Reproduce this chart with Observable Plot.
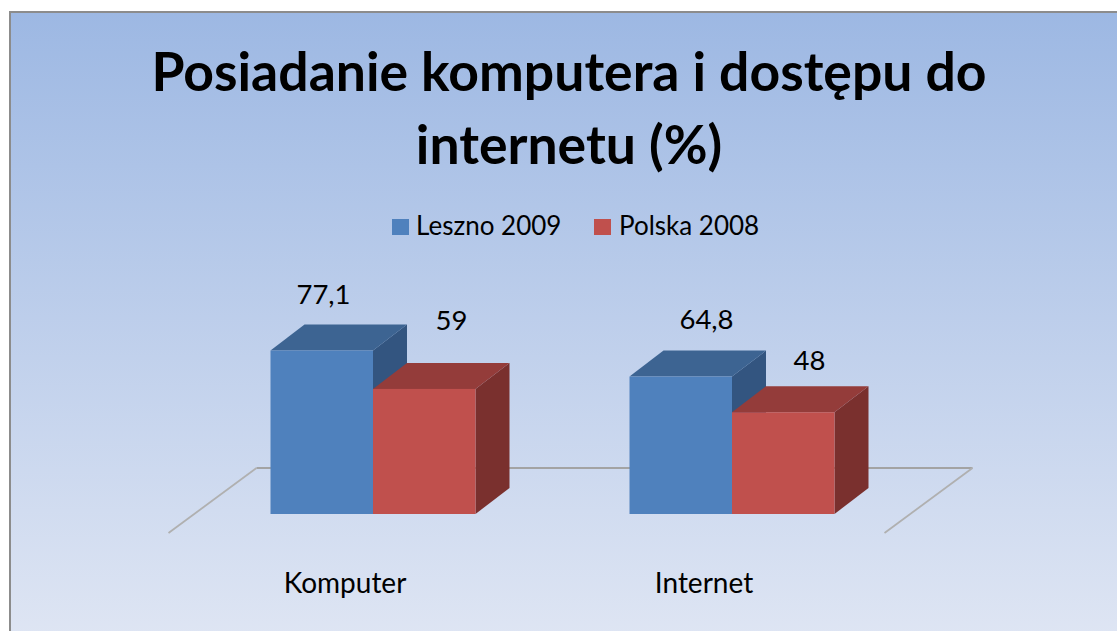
<!DOCTYPE html>
<html>
<head>
<meta charset="utf-8">
<script src="https://cdn.jsdelivr.net/npm/d3@7"></script>
<script src="https://cdn.jsdelivr.net/npm/@observablehq/plot@0.6"></script>
<style>
  html, body { margin: 0; padding: 0; width: 1117px; height: 631px; overflow: hidden; background: #ffffff; }
  body { position: relative; font-family: Lato, "Open Sans", sans-serif; color: #000; }
  #frame { position: absolute; left: 9px; top: 11px; width: 1140px; height: 650px;
    border-left: 2px solid #8c8c8c; border-top: 2px solid #8c8c8c;
    background: linear-gradient(to bottom, #9db8e3 0%, #e1e7f4 100%); }
  .tline { position: absolute; left: 0; width: 1138px; text-align: center; font-weight: 700; font-size: 53.5px; line-height: 60px; white-space: nowrap; }
  .lg-sw { position: absolute; width: 17px; height: 16px; top: 219px; }
  .lg-tx { position: absolute; top: 210px; font-size: 26px; line-height: 30px; white-space: nowrap; }
  #chart { position: absolute; left: 0; top: 250px; }
</style>
</head>
<body>
<div id="frame"></div>
<div class="tline" id="t1" style="top:40px">Posiadanie komputera i dostępu do</div>
<div class="tline" id="t2" style="top:113px">internetu (%)</div>
<div id="legend"></div>
<div id="chart"></div>
<script>
// ---- data ----
const categories = ["Komputer", "Internet"];
const series = ["Leszno 2009", "Polska 2008"];
const leszno2009 = [77.1, 64.8];
const polska2008 = [59, 48];
const seriesColors = ["#4F81BD", "#C0504D"];
const topColors = ["#3D6492", "#943C3A"];
const sideColors = ["#335580", "#7A302E"];

const values = [leszno2009, polska2008];
const rows = [];
series.forEach((s, si) => categories.forEach((c, ci) => rows.push({category: c, series: s, si, value: values[si][ci]})));

// ---- legend (HTML, above the svg) ----
const legend = document.getElementById("legend");
const legendPos = [[392, 416], [594, 619]];
series.forEach((s, i) => {
  const sw = document.createElement("div");
  sw.className = "lg-sw"; sw.style.left = legendPos[i][0] + "px"; sw.style.background = seriesColors[i];
  const tx = document.createElement("div");
  tx.className = "lg-tx"; tx.style.left = legendPos[i][1] + "px"; tx.textContent = s;
  legend.appendChild(sw); legend.appendChild(tx);
});

// ---- layout ----
const W = 1117, H = 381;
const mL = 91, mR = 103;
const pInner = 0.429, pOuter = 0.5;
const step = (W - mL - mR) / (categories.length - pInner + 2 * pOuter);
const bw = step * (1 - pInner);
const half = bw / 2;
const depth = {dx: 34, dy: 26};

const fmt = v => String(v).replace(".", ",");

// label offsets (pixels) relative to band centre / bar top
const labelOffsets = {
  "Komputer|Leszno 2009": [-50, -47.5],
  "Komputer|Polska 2008": [78, -59],
  "Internet|Leszno 2009": [-26, -48.5],
  "Internet|Polska 2008": [77, -43]
};

function pathOf(pts) { return "M" + pts.map(p => p.join(",")).join("L") + "Z"; }

// floor / back wall lines
function floorMark(index, scales) {
  const x = scales.x, y = scales.y;
  const y0 = y(0);
  const back = y0 - 46, front = y0 + 19;
  const xs0 = x(categories[0]);
  const xsN = x(categories[categories.length - 1]) + bw;
  const g = d3.create("svg:g");
  g.append("line").attr("x1", xs0 - 14).attr("y1", back).attr("x2", xsN + 138).attr("y2", back)
    .attr("stroke", "#a3a3a3").attr("stroke-width", 2);
  g.append("line").attr("x1", xs0 - 14).attr("y1", back).attr("x2", xs0 - 102).attr("y2", front)
    .attr("stroke", "#b0b0b0").attr("stroke-width", 1.8);
  g.append("line").attr("x1", xsN + 138).attr("y1", back).attr("x2", xsN + 50).attr("y2", front)
    .attr("stroke", "#b0b0b0").attr("stroke-width", 1.8);
  return g.node();
}

// 3D top and side faces of each bar
function facesMark(index, scales) {
  const x = scales.x, y = scales.y;
  const g = d3.create("svg:g");
  const {dx, dy} = depth;
  const ordered = rows.slice().sort((a, b) => a.si - b.si);
  for (const d of ordered) {
    const x0 = x(d.category) + d.si * half;
    const x1 = x0 + half;
    const yt = y(d.value), yb = y(0);
    g.append("path").attr("d", pathOf([[x1, yt], [x1 + dx, yt - dy], [x1 + dx, yb - dy], [x1, yb]]))
      .attr("fill", sideColors[d.si]);
    g.append("path").attr("d", pathOf([[x0, yt], [x0 + dx, yt - dy], [x1 + dx, yt - dy], [x1, yt]]))
      .attr("fill", topColors[d.si]);
  }
  return g.node();
}

const labelMarks = rows.map(d => {
  const [ox, oy] = labelOffsets[d.category + "|" + d.series];
  return Plot.text([d], {
    x: "category", y: "value", text: r => fmt(r.value),
    dx: ox, dy: oy, lineAnchor: "bottom", textAnchor: "middle",
    fontSize: 27.5, fill: "#000"
  });
});

const plot = Plot.plot({
  width: W, height: H,
  marginLeft: mL, marginRight: mR, marginTop: 52, marginBottom: 117,
  style: {background: "transparent", fontFamily: "Lato, 'Open Sans', sans-serif", overflow: "visible"},
  x: {type: "band", domain: categories, paddingInner: pInner, paddingOuter: pOuter, align: 0.5, round: false, axis: null},
  y: {domain: [0, 100], axis: null},
  color: {domain: series, range: seriesColors},
  marks: [
    floorMark,
    facesMark,
    Plot.barY(rows, {filter: d => d.si === 0, x: "category", y: "value", fill: "series", insetRight: half}),
    Plot.barY(rows, {filter: d => d.si === 1, x: "category", y: "value", fill: "series", insetLeft: half}),
    ...labelMarks,
    Plot.text(categories, {x: d => d, y: () => 0, text: d => d, dx: -28.5, dy: 78, lineAnchor: "bottom", fontSize: 28, fill: "#000"})
  ]
});
document.getElementById("chart").appendChild(plot);
</script>
</body>
</html>
